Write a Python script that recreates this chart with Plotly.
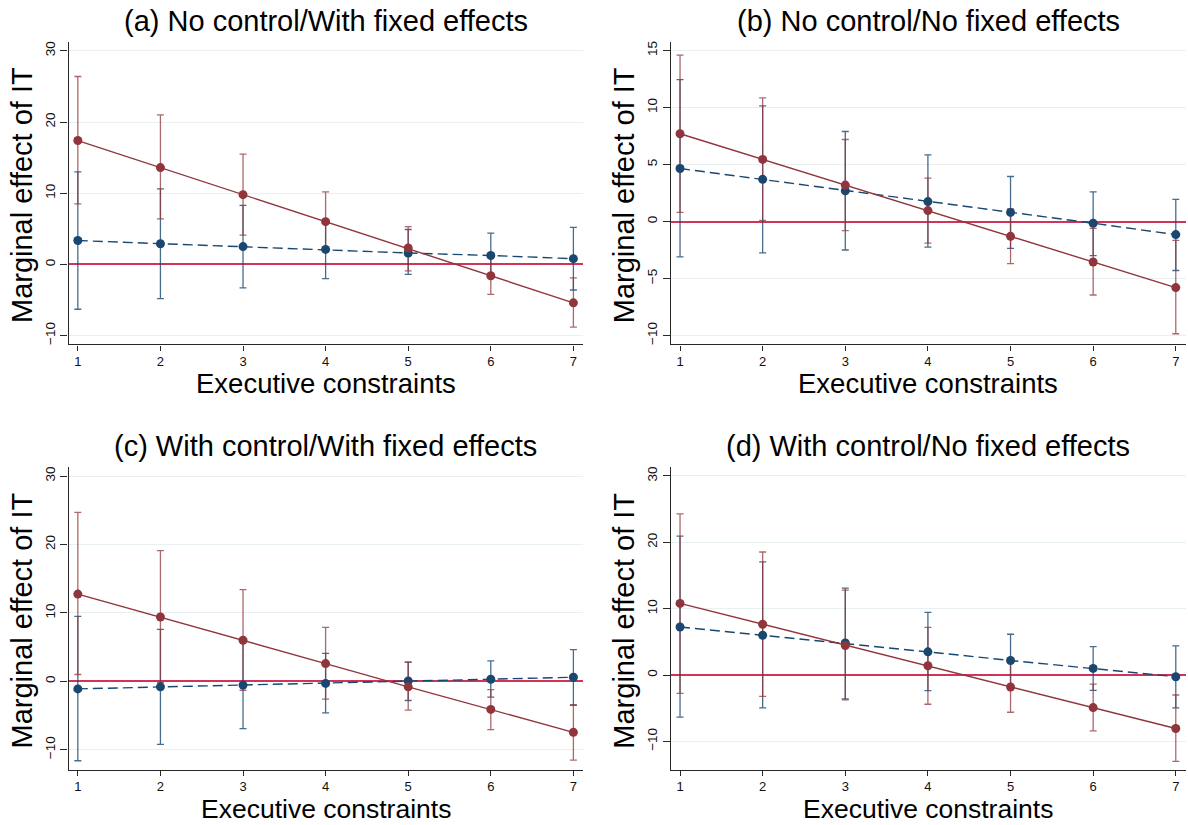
import plotly.graph_objects as go

# ---------------- data ----------------
exec_constraints = [1, 2, 3, 4, 5, 6, 7]

panel_titles = [
    "(a) No control/With fixed effects",
    "(b) No control/No fixed effects",
    "(c) With control/With fixed effects",
    "(d) With control/No fixed effects",
]

# panel (a)
a_red = [17.4, 13.6, 9.8, 6.0, 2.3, -1.6, -5.4]
a_red_lo = [8.5, 6.4, 4.1, 1.9, -0.9, -4.2, -8.8]
a_red_hi = [26.4, 21.0, 15.5, 10.2, 5.3, 1.0, -1.9]
a_blue = [3.35, 2.9, 2.5, 2.1, 1.6, 1.25, 0.8]
a_blue_lo = [-6.3, -4.8, -3.3, -2.0, -1.4, -1.9, -3.6]
a_blue_hi = [13.0, 10.6, 8.3, 6.2, 4.9, 4.4, 5.2]

# panel (b)
b_red = [7.7, 5.45, 3.2, 0.96, -1.3, -3.55, -5.8]
b_red_lo = [0.8, 0.1, -0.8, -1.9, -3.7, -6.45, -9.85]
b_red_hi = [14.6, 10.85, 7.2, 3.8, 1.1, -0.6, -1.65]
b_blue = [4.65, 3.7, 2.7, 1.75, 0.8, -0.15, -1.15]
b_blue_lo = [-3.1, -2.75, -2.5, -2.25, -2.35, -3.0, -4.3]
b_blue_hi = [12.45, 10.15, 7.9, 5.85, 3.95, 2.6, 1.95]

# panel (c)
c_red = [12.75, 9.4, 6.0, 2.6, -0.8, -4.1, -7.45]
c_red_lo = [1.0, -0.2, -1.3, -2.6, -4.2, -7.05, -11.5]
c_red_hi = [24.7, 19.1, 13.4, 7.9, 2.8, -1.2, -3.4]
c_blue = [-1.1, -0.8, -0.55, -0.3, 0.05, 0.3, 0.6]
c_blue_lo = [-11.6, -9.2, -6.9, -4.6, -2.8, -2.3, -3.5]
c_blue_hi = [9.5, 7.6, 5.8, 4.1, 2.8, 3.0, 4.65]

# panel (d)
d_red = [10.8, 7.65, 4.45, 1.4, -1.8, -4.9, -8.05]
d_red_lo = [-2.75, -3.2, -3.75, -4.4, -5.6, -8.4, -13.0]
d_red_hi = [24.3, 18.55, 12.8, 7.2, 2.1, -1.35, -3.0]
d_blue = [7.25, 6.0, 4.85, 3.5, 2.2, 1.0, -0.25]
d_blue_lo = [-6.35, -4.95, -3.6, -2.35, -1.75, -2.3, -4.95]
d_blue_hi = [20.95, 17.05, 13.1, 9.45, 6.15, 4.3, 4.4]

x_ticks = [1, 2, 3, 4, 5, 6, 7]
y_ticks_wide = [-10, 0, 10, 20, 30]
y_ticks_b = [-10, -5, 0, 5, 10, 15]

x_title = "Executive constraints"
y_title = "Marginal effect of IT"

# ---------------- layout / style ----------------
W, H = 1188, 825
FONT = "Liberation Sans, Arial, Helvetica, sans-serif"
RED = "rgb(144,53,59)"
RED_CI = "rgba(144,53,59,0.75)"
BLUE = "rgb(26,71,111)"
BLUE_CI = "rgba(26,71,111,0.8)"
ZERO = "rgb(208,52,88)"
GRID = "rgb(232,240,242)"
AXIS = "rgb(40,40,40)"

# plot areas in pixels: (left, right, top, bottom, x-title offset, x-title size)
boxes = [
    (68.5, 583.3, 40.7, 344.3, 39.5, 27.5),
    (670.7, 1185.7, 40.7, 344.3, 39.5, 27.5),
    (68.5, 583.3, 467.5, 770.5, 39.0, 26.5),
    (670.7, 1185.7, 467.5, 770.5, 39.0, 26.5),
]
y_ranges = [(-11.25, 31.3), (-10.79, 15.79), (-12.9, 31.27), (-14.25, 31.3)]
x_range = (0.887, 7.12)

panels = [
    (a_red, a_red_lo, a_red_hi, a_blue, a_blue_lo, a_blue_hi, y_ticks_wide),
    (b_red, b_red_lo, b_red_hi, b_blue, b_blue_lo, b_blue_hi, y_ticks_b),
    (c_red, c_red_lo, c_red_hi, c_blue, c_blue_lo, c_blue_hi, y_ticks_wide),
    (d_red, d_red_lo, d_red_hi, d_blue, d_blue_lo, d_blue_hi, y_ticks_wide),
]

fig = go.Figure()
annotations = []


def ci_trace(xs, ys, lo, hi, color, xa, ya):
    return go.Scatter(
        x=xs, y=ys, mode="markers",
        marker=dict(size=2, color="rgba(0,0,0,0)"),
        error_y=dict(type="data", symmetric=False,
                     array=[h - v for h, v in zip(hi, ys)],
                     arrayminus=[v - l_ for v, l_ in zip(ys, lo)],
                     color=color, thickness=1.3, width=3.5),
        xaxis=xa, yaxis=ya, showlegend=False, hoverinfo="skip",
    )


for i, (box, yr, pdata, title) in enumerate(zip(boxes, y_ranges, panels, panel_titles)):
    n = i + 1
    xa = "x" if n == 1 else f"x{n}"
    ya = "y" if n == 1 else f"y{n}"
    red, red_lo, red_hi, blue, blue_lo, blue_hi, yticks = pdata
    l, r, t, b, xt_off, xt_size = box

    fig.add_trace(ci_trace(exec_constraints, blue, blue_lo, blue_hi, BLUE_CI, xa, ya))
    fig.add_trace(ci_trace(exec_constraints, red, red_lo, red_hi, RED_CI, xa, ya))
    fig.add_trace(go.Scatter(
        x=exec_constraints, y=blue, mode="lines+markers",
        line=dict(color=BLUE, width=1.4, dash="10px,5px"),
        marker=dict(color=BLUE, size=9),
        xaxis=xa, yaxis=ya, showlegend=False))
    fig.add_trace(go.Scatter(
        x=exec_constraints, y=red, mode="lines+markers",
        line=dict(color=RED, width=1.4),
        marker=dict(color=RED, size=9),
        xaxis=xa, yaxis=ya, showlegend=False))

    xkey = "xaxis" if n == 1 else f"xaxis{n}"
    ykey = "yaxis" if n == 1 else f"yaxis{n}"
    fig.update_layout(**{
        xkey: dict(
            domain=[l / W, r / W], anchor=ya, range=list(x_range),
            tickmode="array", tickvals=x_ticks, ticks="outside", ticklen=5,
            tickcolor=AXIS, tickwidth=1, showgrid=False, zeroline=False,
            showline=True, linecolor=AXIS, linewidth=1.2,
            tickfont=dict(family=FONT, size=13, color="#111"),
        ),
        ykey: dict(
            domain=[1 - b / H, 1 - t / H], anchor=xa, range=list(yr),
            tickmode="array", tickvals=yticks, ticks="outside", ticklen=7,
            tickcolor=AXIS, tickwidth=1, showgrid=True, gridcolor=GRID,
            gridwidth=1, zeroline=True, zerolinecolor=ZERO, zerolinewidth=1.6,
            showline=True, linecolor=AXIS,
            linewidth=1.2, tickangle=-90,
            tickfont=dict(family=FONT, size=13.5, color="#111"),
        ),
    })

    cx = (l + r) / 2
    cy = (t + b) / 2
    annotations.append(dict(text=title, x=cx / W, y=1 - (t - 21) / H,
                            xref="paper", yref="paper", showarrow=False,
                            xanchor="center", yanchor="middle", borderpad=0,
                            font=dict(family=FONT, size=29, color="#000")))
    annotations.append(dict(text=x_title, x=cx / W, y=1 - (b + xt_off) / H,
                            xref="paper", yref="paper", showarrow=False,
                            xanchor="center", yanchor="middle", borderpad=0,
                            font=dict(family=FONT, size=xt_size, color="#000")))
    annotations.append(dict(text=y_title, x=(l - 46.5) / W, y=1 - (cy + 2) / H,
                            xref="paper", yref="paper", showarrow=False,
                            xanchor="center", yanchor="middle", textangle=-90,
                            borderpad=0,
                            font=dict(family=FONT, size=29, color="#000")))

fig.update_layout(
    width=W, height=H,
    margin=dict(l=0, r=0, t=0, b=0),
    paper_bgcolor="white", plot_bgcolor="white",
    showlegend=False,
    annotations=annotations,
    font=dict(family=FONT),
)

fig.write_html(
    "out.html",
    config={"displayModeBar": False},
    post_script=(
        "document.body.style.margin='0';document.body.style.padding='0';"
        "document.body.style.overflow='hidden';"
        "document.documentElement.style.overflow='hidden';"
    ),
)
